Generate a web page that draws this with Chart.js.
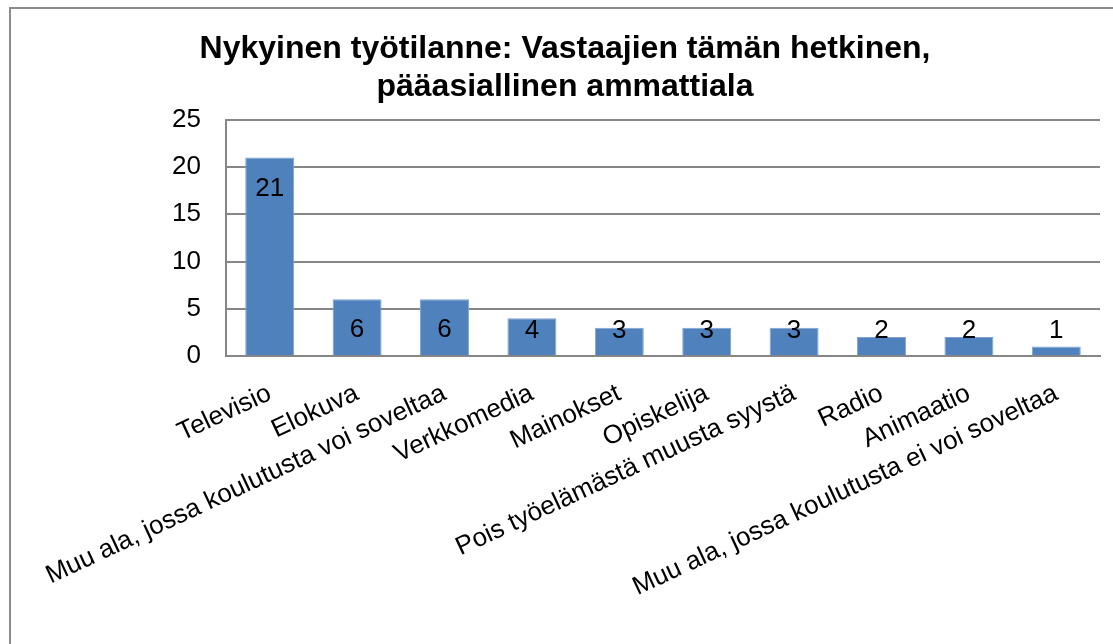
<!DOCTYPE html>
<html>
<head>
<meta charset="utf-8">
<script src="https://cdn.jsdelivr.net/npm/chart.js@4"></script>
<style>
    html, body { margin: 0; padding: 0; background: #fff; }
    #wrap { position: relative; width: 1113px; height: 644px; overflow: hidden; }
    #frame { position: absolute; left: 9px; top: 7px; width: 1200px; height: 700px; border: 2px solid #8c8c8c; box-sizing: border-box; }
    canvas { position: absolute; left: 0; top: 0; }
</style>
</head>
<body>
<div id="wrap">
    <div id="frame"></div>
    <canvas id="chart" width="1113" height="644"></canvas>
</div>
<script>
const titleLines = ['Nykyinen työtilanne: Vastaajien tämän hetkinen,', 'pääasiallinen ammattiala'];
const categories = [
    'Televisio',
    'Elokuva',
    'Muu ala, jossa koulutusta voi soveltaa',
    'Verkkomedia',
    'Mainokset',
    'Opiskelija',
    'Pois työelämästä muusta syystä',
    'Radio',
    'Animaatio',
    'Muu ala, jossa koulutusta ei voi soveltaa'
];
const counts = [21, 6, 6, 4, 3, 3, 3, 2, 2, 1];
const yTicks = [0, 5, 10, 15, 20, 25];

const FONT = '"Liberation Sans", Arial, sans-serif';

// value labels, inside end of the bar (clamped near the base like Excel does)
const valueLabels = {
    id: 'valueLabels',
    afterDatasetsDraw(chart) {
        const ctx = chart.ctx;
        const meta = chart.getDatasetMeta(0);
        const base = chart.scales.y.getPixelForValue(0);
        ctx.save();
        ctx.font = '26px ' + FONT;
        ctx.fillStyle = '#000';
        ctx.textAlign = 'center';
        ctx.textBaseline = 'middle';
        meta.data.forEach((bar, i) => {
            let y = Math.min(bar.y + 31, base - 25);
            ctx.fillText(String(counts[i]), bar.x, y);
        });
        ctx.restore();
    }
};

new Chart(document.getElementById('chart').getContext('2d'), {
    type: 'bar',
    data: {
        labels: categories,
        datasets: [{
            data: counts,
            backgroundColor: '#4F81BD',
            borderColor: '#7EA3D0',
            borderWidth: 1,
            categoryPercentage: 1,
            barPercentage: 0.56
        }]
    },
    options: {
        responsive: false,
        animation: false,
        layout: { padding: { left: 30, right: 13, top: 0, bottom: 0 } },
        plugins: {
            legend: { display: false },
            tooltip: { enabled: false },
            title: {
                display: true,
                text: titleLines,
                color: '#000',
                font: { family: FONT, size: 32, weight: 'bold', lineHeight: 1.2 },
                padding: { top: 30, bottom: 13 }
            }
        },
        scales: {
            x: {
                grid: { display: false },
                border: { display: true, color: '#868686', width: 2 },
                ticks: {
                    color: '#000',
                    font: { family: FONT, size: 26 },
                    minRotation: 25,
                    maxRotation: 25,
                    autoSkip: false,
                    padding: 14
                },
                afterFit(scale) { scale.height = 288; }
            },
            y: {
                min: 0,
                max: 25,
                afterBuildTicks(scale) { scale.ticks = yTicks.map(v => ({ value: v })); },
                grid: { color: '#868686', lineWidth: 2, drawTicks: false },
                border: { display: true, color: '#868686', width: 2 },
                ticks: {
                    color: '#000',
                    font: { family: FONT, size: 26 },
                    padding: 25
                },
                afterFit(scale) { scale.width = 196; }
            }
        }
    },
    plugins: [valueLabels]
});
</script>
</body>
</html>
